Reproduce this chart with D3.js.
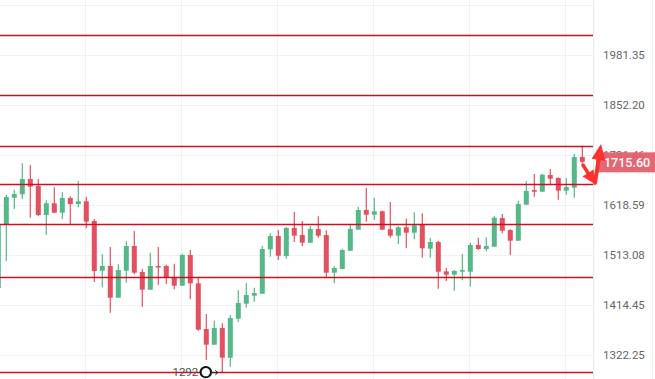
<!DOCTYPE html>
<html>
<head>
<meta charset="utf-8">
<script src="https://cdn.jsdelivr.net/npm/d3@7"></script>
<style>
  html, body { margin: 0; padding: 0; background: #fff; }
  svg { display: block; font-family: Roboto, "Noto Sans", sans-serif; }
</style>
</head>
<body>
<svg id="chart" width="655" height="379"></svg>
<script>
const open = [1447.23,1577.65,1634.60,1642.11,1676.33,1660.58,1596.90,1622.31,1601.86,1633.94,
  1620.77,1626.68,1584.04,1481.39,1490.80,1428.44,1481.39,1531.55,1478.79,1443.92,
  1490.80,1490.80,1468.27,1451.73,1513.08,1456.43,1369.41,1340.74,1371.26,1317.45,
  1388.56,1416.93,1432.29,1436.16,1524.75,1552.33,1511.03,1569.17,1554.42,1538.38,
  1567.05,1554.42,1477.40,1484.78,1521.88,1565.57,1607.70,1597.55,1604.89,1566.42,
  1552.96,1570.65,1559.25,1577.01,1525.99,1539.83,1480.19,1473.42,1479.39,1479.39,
  1533.61,1525.37,1530.11,1590.46,1564.94,1542.53,1619.24,1651.65,1647.87,1685.39,
  1678.59,1650.09,1656.78,1726.78];
const close = [1577.65,1636.14,1642.77,1676.33,1659.01,1596.90,1622.31,1601.86,1633.94,1620.77,
  1626.68,1582.55,1480.79,1490.80,1428.44,1482.78,1531.55,1477.40,1443.92,1490.80,
  1489.39,1468.27,1451.73,1513.08,1456.43,1368.12,1340.74,1371.26,1317.45,1389.87,
  1418.27,1433.65,1437.52,1525.37,1552.33,1511.64,1569.17,1552.96,1538.38,1567.05,
  1552.96,1477.40,1486.79,1523.31,1567.05,1607.70,1597.55,1604.89,1565.57,1552.96,
  1570.65,1559.25,1574.89,1526.81,1539.83,1479.39,1473.42,1480.79,1482.78,1533.61,
  1525.37,1531.55,1591.10,1563.46,1542.53,1620.77,1649.42,1647.87,1686.07,1677.00,
  1650.09,1658.34,1726.78,1715.60];
const high = [1581.91,1640.56,1652.32,1712.18,1708.26,1676.33,1628.88,1657.67,1646.54,1637.68,
  1671.81,1636.80,1588.32,1514.51,1529.49,1494.22,1541.28,1562.83,1484.78,1517.77,
  1529.49,1493.41,1495.43,1515.73,1523.31,1466.88,1397.38,1384.82,1379.98,1394.94,
  1443.34,1457.02,1447.82,1531.55,1557.99,1564.94,1571.28,1603.37,1584.04,1573.40,
  1594.11,1564.30,1490.80,1525.99,1577.01,1614.87,1656.11,1634.60,1606.62,1625.15,
  1573.40,1588.96,1602.73,1600.57,1548.15,1541.90,1486.79,1482.78,1515.12,1538.38,
  1548.78,1549.61,1594.75,1599.06,1566.42,1627.34,1671.81,1687.66,1688.35,1699.08,
  1680.18,1678.59,1733.80,1753.30];
const low = [1443.34,1500.88,1609.87,1631.73,1591.10,1594.75,1554.42,1601.00,1587.68,1577.01,
  1613.56,1568.53,1458.99,1448.60,1399.83,1428.00,1457.61,1474.22,1411.20,1443.50,
  1453.69,1455.06,1444.70,1451.50,1425.36,1366.28,1313.37,1340.50,1292.00,1301.57,
  1382.40,1409.30,1420.76,1436.00,1509.60,1502.90,1505.54,1539.83,1530.93,1538.00,
  1548.78,1467.47,1456.43,1484.50,1521.50,1565.30,1582.55,1586.18,1564.30,1548.78,
  1535.06,1526.81,1545.44,1507.57,1507.57,1445.87,1460.96,1441.98,1462.34,1449.77,
  1523.31,1520.65,1529.80,1557.99,1513.08,1542.20,1619.00,1636.80,1647.50,1664.39,
  1630.20,1641.22,1634.60,1712.18];

const levels = [2035.49, 1877.34, 1752.59, 1665.06, 1577.01, 1468.27, 1293.00];
const tickValues = [1322.25, 1414.45, 1513.08, 1618.59, 1731.46, 1852.20, 1981.35];
const gridOnlyValues = [2119.49];
const timeGridIdx = [11, 23, 35, 47, 59, 71];

const W = 655, H = 379, plotRight = 593;
const GREEN = "#53b987", RED = "#e5505f";

const svg = d3.select("#chart");

const x = d3.scaleLinear().domain([0, open.length - 1]).range([-1.7, 582.3]);
const y = d3.scaleLog().domain([1322.25, 1981.35]).range([355, 55]);

// grid
const grid = svg.append("g");
grid.selectAll("line.h").data(tickValues.concat(gridOnlyValues)).join("line")
  .attr("x1", 0).attr("x2", plotRight)
  .attr("y1", d => Math.round(y(d)) + 0.5).attr("y2", d => Math.round(y(d)) + 0.5)
  .attr("stroke", "#f0f1f3").attr("stroke-width", 1);
grid.selectAll("line.v").data(timeGridIdx).join("line")
  .attr("x1", d => Math.round(x(d) - 1) + 0.5).attr("x2", d => Math.round(x(d) - 1) + 0.5)
  .attr("y1", 0).attr("y2", H)
  .attr("stroke", "#f0f1f3").attr("stroke-width", 1);

// axis separator
svg.append("line").attr("x1", plotRight + 0.5).attr("x2", plotRight + 0.5)
  .attr("y1", 0).attr("y2", H).attr("stroke", "#e6e8eb");
svg.append("line").attr("x1", 652.5).attr("x2", 652.5)
  .attr("y1", 0).attr("y2", H).attr("stroke", "#eef0f2");

// candles
const idx = d3.range(open.length);
const candles = svg.append("g");
candles.selectAll("line.wick").data(idx).join("line")
  .attr("x1", i => x(i)).attr("x2", i => x(i))
  .attr("y1", i => y(high[i])).attr("y2", i => y(low[i]))
  .attr("stroke", i => close[i] >= open[i] ? GREEN : RED)
  .attr("stroke-width", 1.2);
candles.selectAll("rect.body").data(idx).join("rect")
  .attr("x", i => x(i) - 2.5)
  .attr("width", 5)
  .attr("y", i => Math.min(y(open[i]), y(close[i])))
  .attr("height", i => Math.max(1.5, Math.abs(y(open[i]) - y(close[i]))))
  .attr("fill", i => close[i] >= open[i] ? GREEN : RED);

// level lines
svg.append("g").selectAll("line").data(levels).join("line")
  .attr("x1", 0).attr("x2", plotRight)
  .attr("y1", d => Math.round(y(d)) + 0.5).attr("y2", d => Math.round(y(d)) + 0.5)
  .attr("stroke", "#cc1020").attr("stroke-width", 1.3);

// y axis
const axis = d3.axisRight(y).tickValues(tickValues).tickSize(0).tickPadding(10)
  .tickFormat(d3.format(".2f"));
const ag = svg.append("g").attr("transform", `translate(${plotRight},0)`).call(axis);
ag.select(".domain").remove();
ag.selectAll("text").attr("fill", "#666").attr("font-size", "11.5px")
  .attr("font-family", "Roboto, sans-serif");

// last price label
const last = close[close.length - 1];
const ly = y(last);
svg.append("rect").attr("x", 596).attr("y", ly - 9.5).attr("width", 59).attr("height", 20)
  .attr("fill", "#e2606d").attr("opacity", 0.95);
svg.append("text").attr("x", 604).attr("y", ly + 5)
  .attr("fill", "#fff").attr("font-size", "12.5px").attr("font-weight", 500)
  .text(d3.format(".2f")(last));

// red arrows (annotation)
const AR = "#ff3030";
function arrow(x1, y1, x2, y2, headLen, headW, shaftW) {
  const dx = x2 - x1, dy = y2 - y1, L = Math.hypot(dx, dy);
  const ux = dx / L, uy = dy / L, px = -uy, py = ux;
  const bx = x2 - ux * headLen, by = y2 - uy * headLen;
  svg.append("line").attr("x1", x1).attr("y1", y1).attr("x2", bx + ux).attr("y2", by + uy)
    .attr("stroke", AR).attr("stroke-width", shaftW).attr("stroke-linecap", "round");
  svg.append("path")
    .attr("d", `M${x2},${y2}L${bx + px * headW},${by + py * headW}L${bx - px * headW},${by - py * headW}Z`)
    .attr("fill", AR);
}
arrow(583, 165, 595, 184, 13, 6.5, 3.5);
arrow(595, 183, 601, 144, 16, 7, 4);

// low annotation
const lowIdx = low.indexOf(d3.min(low));
const lx = x(lowIdx), lyy = y(low[lowIdx]);
svg.append("text").attr("x", lx - 24).attr("y", lyy + 4).attr("text-anchor", "end")
  .attr("fill", "#555").attr("font-size", "11.5px").text(d3.format("d")(low[lowIdx]));
svg.append("circle").attr("cx", lx - 16.5).attr("cy", lyy).attr("r", 5.2)
  .attr("fill", "#fff").attr("stroke", "#111").attr("stroke-width", 2);
svg.append("path")
  .attr("d", `M${lx - 10},${lyy + 0.5}L${lx - 4.5},${lyy + 0.5}M${lx - 7},${lyy - 1.8}L${lx - 4.5},${lyy + 0.5}L${lx - 7},${lyy + 2.8}`)
  .attr("stroke", "#222").attr("stroke-width", 1).attr("fill", "none");
</script>
</body>
</html>
